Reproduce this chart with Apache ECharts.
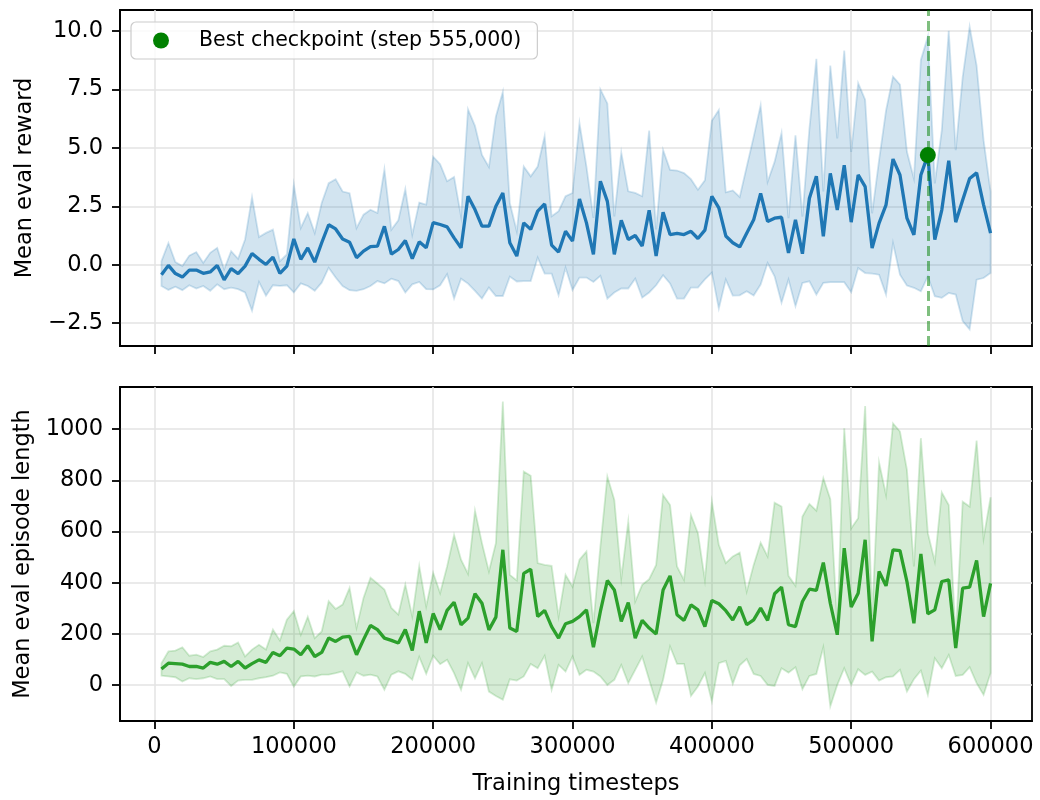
<!DOCTYPE html>
<html><head><meta charset="utf-8">
<script src="https://cdn.jsdelivr.net/npm/echarts@6/dist/echarts.min.js"></script>
<style>html,body{margin:0;padding:0;background:#fff}#chart{width:1040px;height:800px}</style>
</head><body><div id="chart"></div>
<script>
const steps = [5000,10000,15000,20000,25000,30000,35000,40000,45000,50000,
55000,60000,65000,70000,75000,80000,85000,90000,95000,100000,
105000,110000,115000,120000,125000,130000,135000,140000,145000,150000,
155000,160000,165000,170000,175000,180000,185000,190000,195000,200000,
205000,210000,215000,220000,225000,230000,235000,240000,245000,250000,
255000,260000,265000,270000,275000,280000,285000,290000,295000,300000,
305000,310000,315000,320000,325000,330000,335000,340000,345000,350000,
355000,360000,365000,370000,375000,380000,385000,390000,395000,400000,
405000,410000,415000,420000,425000,430000,435000,440000,445000,450000,
455000,460000,465000,470000,475000,480000,485000,490000,495000,500000,
505000,510000,515000,520000,525000,530000,535000,540000,545000,550000,
555000,560000,565000,570000,575000,580000,585000,590000,595000,600000];

const rewardMean = [-0.43,-0.03,-0.38,-0.53,-0.23,-0.23,-0.37,-0.31,-0.03,-0.65,
-0.17,-0.38,-0.06,0.48,0.23,0.01,0.32,-0.37,-0.06,1.10,
0.23,0.72,0.11,0.94,1.71,1.53,1.10,0.96,0.30,0.58,
0.77,0.79,1.64,0.45,0.65,1.03,0.26,0.98,0.72,1.80,
1.72,1.62,1.15,0.72,2.93,2.36,1.65,1.65,2.50,3.07,
0.94,0.37,1.79,1.51,2.29,2.60,0.84,0.54,1.43,1.01,
2.81,1.79,0.44,3.57,2.71,0.44,1.90,1.08,1.25,0.80,
2.33,0.37,2.24,1.29,1.34,1.29,1.43,1.12,1.48,2.93,
2.43,1.23,0.94,0.76,1.35,1.92,3.05,1.85,1.99,2.03,
0.50,1.92,0.47,2.84,3.79,1.21,3.91,2.34,4.26,1.82,
3.84,3.34,0.71,1.78,2.56,4.52,3.84,1.99,1.28,3.84,
4.69,1.07,2.34,4.45,1.82,2.77,3.69,3.93,2.56,1.35];

const rewardUpper = [0.15,0.93,0.11,-0.06,0.39,0.54,0.08,0.51,0.72,-0.20,
0.58,0.25,1.08,2.89,1.18,1.36,1.50,0.15,0.44,3.42,
1.57,2.21,1.36,2.64,3.49,3.66,3.13,3.06,1.57,2.14,
2.35,2.21,4.08,1.50,1.90,3.23,1.29,2.66,2.57,4.62,
4.30,3.57,3.75,2.07,6.65,5.94,4.70,4.18,6.34,7.40,
2.64,1.43,4.20,3.78,4.20,5.51,2.07,2.29,2.93,3.07,
6.05,4.20,2.00,7.50,6.90,2.07,4.80,3.14,3.07,2.93,
5.74,1.51,4.91,4.06,4.03,3.92,3.66,3.21,3.61,6.16,
6.62,3.10,3.18,2.90,4.19,5.47,6.82,3.55,4.40,5.64,
1.99,5.54,2.06,5.82,8.81,3.13,8.52,5.40,9.16,4.83,
7.77,7.06,2.20,4.47,6.60,8.05,7.71,4.83,3.69,8.76,
9.76,3.48,5.75,10.01,4.90,8.03,10.18,8.52,5.33,3.13];

const rewardLower = [-0.91,-1.08,-0.94,-1.09,-0.88,-1.02,-0.91,-1.12,-0.84,-1.05,
-0.98,-1.05,-1.19,-1.97,-0.74,-1.33,-0.88,-0.91,-0.88,-1.19,
-0.80,-0.91,-1.12,-0.77,-0.13,-0.55,-0.91,-1.09,-1.12,-1.05,
-0.91,-0.70,-0.80,-0.60,-0.70,-1.19,-0.84,-0.74,-1.05,-1.06,
-0.88,-0.41,-1.45,-0.60,-0.81,-1.12,-1.45,-0.98,-1.34,-1.34,
-0.51,-0.72,-0.70,-0.70,0.30,-0.38,-0.38,-1.31,-0.13,-1.08,
-0.55,-0.55,-0.74,-0.48,-1.45,-1.19,-1.02,-1.02,-0.60,-1.41,
-1.19,-0.88,-0.45,-0.80,-1.45,-1.45,-0.98,-0.98,-0.63,-0.34,
-1.88,-0.64,-1.32,-1.31,-1.14,-1.32,-0.85,0.07,-0.50,-1.63,
-0.64,-1.78,-0.78,-0.71,-1.28,-0.78,-0.75,-0.75,-0.75,-1.18,
-0.14,-0.36,-0.38,-0.43,-1.28,0.92,-0.43,-0.89,-0.99,-1.14,
-0.50,-1.35,-1.42,-1.21,-1.28,-2.41,-2.77,-0.64,-0.57,-0.36];

const lengthMean = [63,86,84,82,73,73,67,89,82,93,
73,93,67,84,99,89,128,115,145,141,
119,154,112,128,184,171,188,191,119,178,
233,217,184,175,165,217,136,289,165,280,
217,292,324,236,262,357,320,216,266,529,
223,210,437,453,268,292,229,184,240,249,
268,294,148,288,409,372,249,323,184,253,
223,200,372,427,275,253,314,294,229,331,
318,291,255,306,236,255,301,253,357,383,
236,229,327,375,370,479,320,197,535,305,
359,568,171,444,388,529,526,405,242,513,
279,294,405,411,145,379,383,487,268,398];

const lengthUpper = [86,132,135,148,115,119,110,132,139,154,
152,167,112,139,158,139,217,175,256,289,
197,267,184,210,328,298,315,380,224,341,
420,397,374,302,276,393,269,465,308,439,
360,464,587,490,435,682,555,444,555,1108,
431,409,835,818,477,470,466,268,431,385,
490,522,242,542,815,724,418,639,327,392,
414,470,743,704,464,411,665,594,411,717,
548,477,503,518,366,470,557,503,713,698,
427,388,659,708,682,809,727,242,1004,613,
652,1091,268,870,743,1023,991,841,464,965,
594,483,753,704,190,717,698,956,574,734];

const lengthLower = [37,34,31,14,27,24,27,34,24,24,
-3,18,21,21,27,31,37,50,44,-5,
34,37,34,41,41,47,54,-5,50,37,
41,34,-18,41,54,44,21,110,44,115,
82,99,47,-18,86,27,86,-25,-42,-57,
23,18,34,83,66,115,-18,79,53,112,
40,60,53,34,1,21,79,8,60,112,
21,-68,21,151,83,83,-42,-5,47,-64,
86,95,5,78,102,44,36,1,-3,66,
49,70,-16,36,44,148,-83,1,66,1,
62,40,53,18,31,34,60,-25,23,57,
-38,105,66,118,36,40,70,8,-38,47];

const bestStep = 555000;
const bestReward = 4.69;
const bestLabel = 'Best checkpoint (step 555,000)';
const xTicks = [0,100000,200000,300000,400000,500000,600000];
const rewardTicks = [-2.5,0,2.5,5,7.5,10];
const lengthTicks = [0,200,400,600,800,1000];

const FONT = 'DejaVu Sans';
const TICK_FS = 22.5;
const GRID_COLOR = '#e3e3e3';

function pairs(xs, ys){ return xs.map((x,i)=>[x, ys[i]]); }

function bandSeries(lower, upper, color, idx){
  return {
    type:'custom', xAxisIndex:idx, yAxisIndex:idx, z:1, silent:true, clip:true,
    data: steps.map((s,i)=>[s, lower[i], upper[i]]),
    encode:{x:0, y:[1,2]},
    renderItem:function(params, api){
      if (params.dataIndex !== 0) return null;
      const pts = [];
      for (let i=0;i<steps.length;i++) pts.push(api.coord([steps[i], upper[i]]));
      for (let i=steps.length-1;i>=0;i--) pts.push(api.coord([steps[i], lower[i]]));
      return {type:'polygon', shape:{points:pts}, style:{fill:color, stroke:color, lineWidth:1.8}};
    }
  };
}

function xAxisDef(idx, showLabels){
  const a = {
    gridIndex:idx, type:'value', min:-24750, max:629750,
    axisLine:{show:true, onZero:false, lineStyle:{color:'#000', width:1.8}},
    axisTick:{show:true, length:8, customValues:xTicks, lineStyle:{color:'#000', width:1.8}},
    axisLabel:{show:showLabels, customValues:xTicks, fontSize:TICK_FS, fontFamily:FONT, color:'#000', margin:15,
      formatter:v=>String(v)},
    splitLine:{show:true, lineStyle:{color:GRID_COLOR, width:1.5}}
  };
  if (showLabels){
    a.name = 'Training timesteps';
    a.nameLocation = 'middle';
    a.nameGap = 52;
    a.nameTextStyle = {fontSize:TICK_FS, fontFamily:FONT, color:'#000'};
  }
  return a;
}

function yAxisDef(idx, min, max, ticks, name, fmt){
  return {
    gridIndex:idx, type:'value', min:min, max:max,
    name:name, nameLocation:'middle', nameGap:83,
    nameTextStyle:{fontSize:TICK_FS, fontFamily:FONT, color:'#000'},
    axisLine:{show:true, onZero:false, lineStyle:{color:'#000', width:1.8}},
    axisTick:{show:true, length:8, customValues:ticks, lineStyle:{color:'#000', width:1.8}},
    axisLabel:{show:true, customValues:ticks, fontSize:TICK_FS, fontFamily:FONT, color:'#000', margin:17, formatter:fmt},
    splitLine:{show:true, lineStyle:{color:GRID_COLOR, width:1.5}}
  };
}

const chart = echarts.init(document.getElementById('chart'), null, {renderer:'canvas'});
chart.setOption({
  animation:false,
  backgroundColor:'#fff',
  grid:[
    {left:120, right:8, top:10, height:336, show:true, borderColor:'#000', borderWidth:1.8, backgroundColor:'transparent'},
    {left:120, right:8, top:387, height:334, show:true, borderColor:'#000', borderWidth:1.8, backgroundColor:'transparent'}
  ],
  legend:{
    data:[bestLabel], left:131, top:22, orient:'horizontal',
    icon:'circle', itemWidth:16, itemHeight:16,
    padding:[8,16,8,22],
    borderColor:'#cccccc', borderWidth:1.2, borderRadius:5,
    backgroundColor:'rgba(255,255,255,0.8)',
    textStyle:{fontSize:20.5, fontFamily:FONT, color:'#000', padding:[0,0,0,25]}
  },
  xAxis:[xAxisDef(0,false), xAxisDef(1,true)],
  yAxis:[
    yAxisDef(0,-3.48,10.9,rewardTicks,'Mean eval reward', v=>(v<0?'\u2212':'')+Math.abs(v).toFixed(1)),
    yAxisDef(1,-140,1165,lengthTicks,'Mean eval episode length', v=>(v<0?'\u2212':'')+String(Math.abs(v)))
  ],
  series:[
    bandSeries(rewardLower, rewardUpper, 'rgba(31,119,180,0.2)', 0),
    {type:'line', name:'reward', xAxisIndex:0, yAxisIndex:0, z:3, data:pairs(steps, rewardMean),
      showSymbol:false, symbol:'none', lineStyle:{color:'#1f77b4', width:3.3}, itemStyle:{color:'#1f77b4'},
      markLine:{silent:true, symbol:['none','none'], label:{show:false}, animation:false,
        lineStyle:{color:'#008000', opacity:0.5, width:3, type:[10,5]}, data:[{xAxis:bestStep}]}
    },
    {type:'scatter', name:bestLabel, xAxisIndex:0, yAxisIndex:0, z:5, data:[[bestStep, bestReward]],
      symbol:'circle', symbolSize:16, itemStyle:{color:'#008000', opacity:1}},
    bandSeries(lengthLower, lengthUpper, 'rgba(44,160,44,0.2)', 1),
    {type:'line', name:'length', xAxisIndex:1, yAxisIndex:1, z:3, data:pairs(steps, lengthMean),
      showSymbol:false, symbol:'none', lineStyle:{color:'#2ca02c', width:3.3}, itemStyle:{color:'#2ca02c'}}
  ]
});
</script>
</body></html>
